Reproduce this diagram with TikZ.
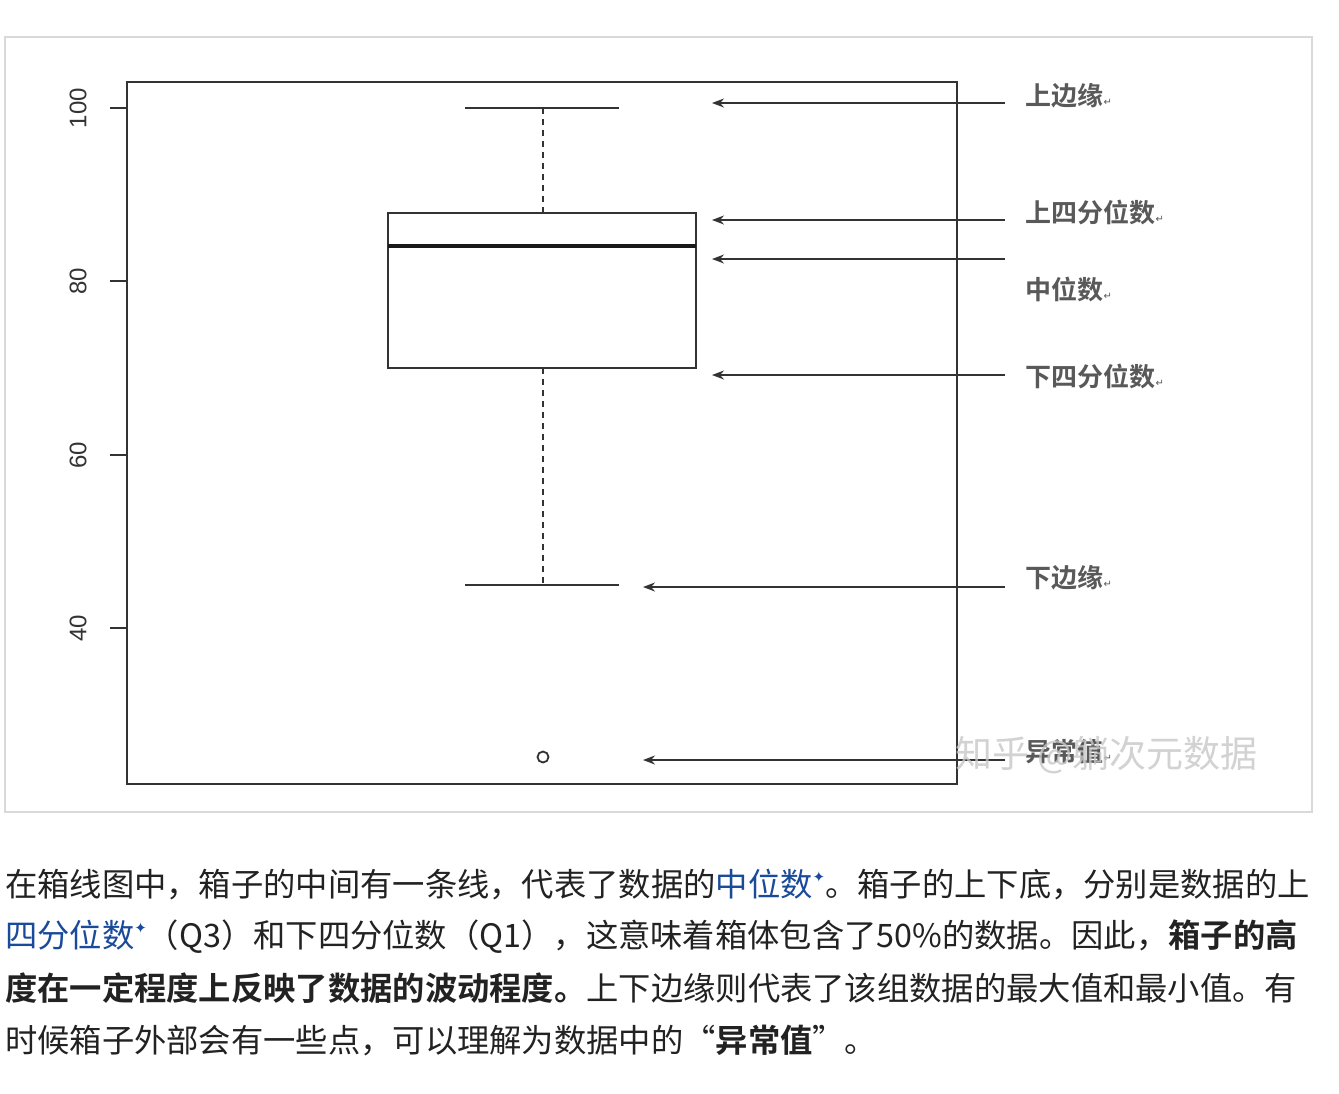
\documentclass[tikz,border=0pt]{standalone}
\usetikzlibrary{arrows.meta}
\usepackage{fontspec}
\setmainfont{Noto Sans CJK SC}
\newfontfamily\djv{DejaVu Sans}
\newfontfamily\axf{Liberation Sans}
\newfontfamily\cjkb{Noto Sans CJK SC Bold}
\definecolor{lnk}{HTML}{1A4A9A}
\definecolor{txt}{HTML}{222222}
\tikzset{
  ax/.style={line width=2pt, draw=black!80},
  arr/.style={line width=1.6pt, draw=black!80, -{Stealth[length=12pt,width=9pt]}},
  lab/.style={anchor=west, font=\cjkb\fontsize{26}{28}\selectfont, text=black!65},
  para/.style={anchor=west, font=\fontsize{32.3}{34}\selectfont, text=txt, inner sep=0pt},
  tl/.style={font=\axf\fontsize{24}{26}\selectfont, rotate=90, text=black!80}
}
\newcommand{\lk}[1]{\textcolor{lnk}{#1\raisebox{0.45em}{\djv\fontsize{15}{15}\selectfont ✦}}}
\newcommand{\rt}{{\djv\fontsize{10}{10}\selectfont ↵}}
\begin{document}
\begin{tikzpicture}[x=1pt,y=-1pt]
\useasboundingbox (0,0) rectangle (1339,1093);
\fill[white] (0,0) rectangle (1339,1093);
\draw[black!15, line width=1.5pt] (5,37) rectangle (1312,812);
\draw[ax] (127,82) rectangle (957,784);
\foreach \v/\y in {100/108,80/281,60/455,40/628}{
  \draw[ax] (110,\y) -- (127,\y);
  \node[tl] at (78,\y) {\v};
}
\draw[ax] (465,108) -- (619,108);
\draw[ax] (465,585) -- (619,585);
\draw[line width=1.8pt, black!80, dash pattern=on 6pt off 5pt] (543,108) -- (543,213);
\draw[line width=1.8pt, black!80, dash pattern=on 6pt off 5pt] (543,368) -- (543,585);
\draw[ax] (388,213) rectangle (696,368);
\draw[line width=4pt, black!90] (388,246) -- (696,246);
\draw[line width=1.8pt, black!80] (543,757) circle (5.5pt);
\foreach \n/\y/\e/\ly/\t in {a/103/712/96/上边缘,b/220/712/212/上四分位数,c/259/712/289/中位数,d/375/712/376/下四分位数,e/587/643/578/下边缘,f/760/643/752/异常值}{
  \coordinate (s\n) at (1005,\y);
  \coordinate (t\n) at (\e,\y);
  \draw[arr] (s\n) -- (t\n);
  \node[lab] (l\n) at (1022,\ly) {\t\rt};
}
\node[anchor=west, font=\fontsize{37}{39}\selectfont, text=black!22, opacity=0.8] (wm) at (952,755) {知乎 @躺次元数据};
\node[para] (p1) at (5,885) {在箱线图中，箱子的中间有一条线，代表了数据的\lk{中位数}。箱子的上下底，分别是数据的上};
\node[para] (p2) at (5,937) {\lk{四分位数}（Q3）和下四分位数（Q1），这意味着箱体包含了50\%的数据。因此，{\cjkb 箱子的高}};
\node[para] (p3) at (5,988) {{\cjkb 度在一定程度上反映了数据的波动程度。}上下边缘则代表了该组数据的最大值和最小值。有};
\node[para] (p4) at (5,1040) {时候箱子外部会有一些点，可以理解为数据中的“{\cjkb 异常值}”。};
\end{tikzpicture}
\end{document}
